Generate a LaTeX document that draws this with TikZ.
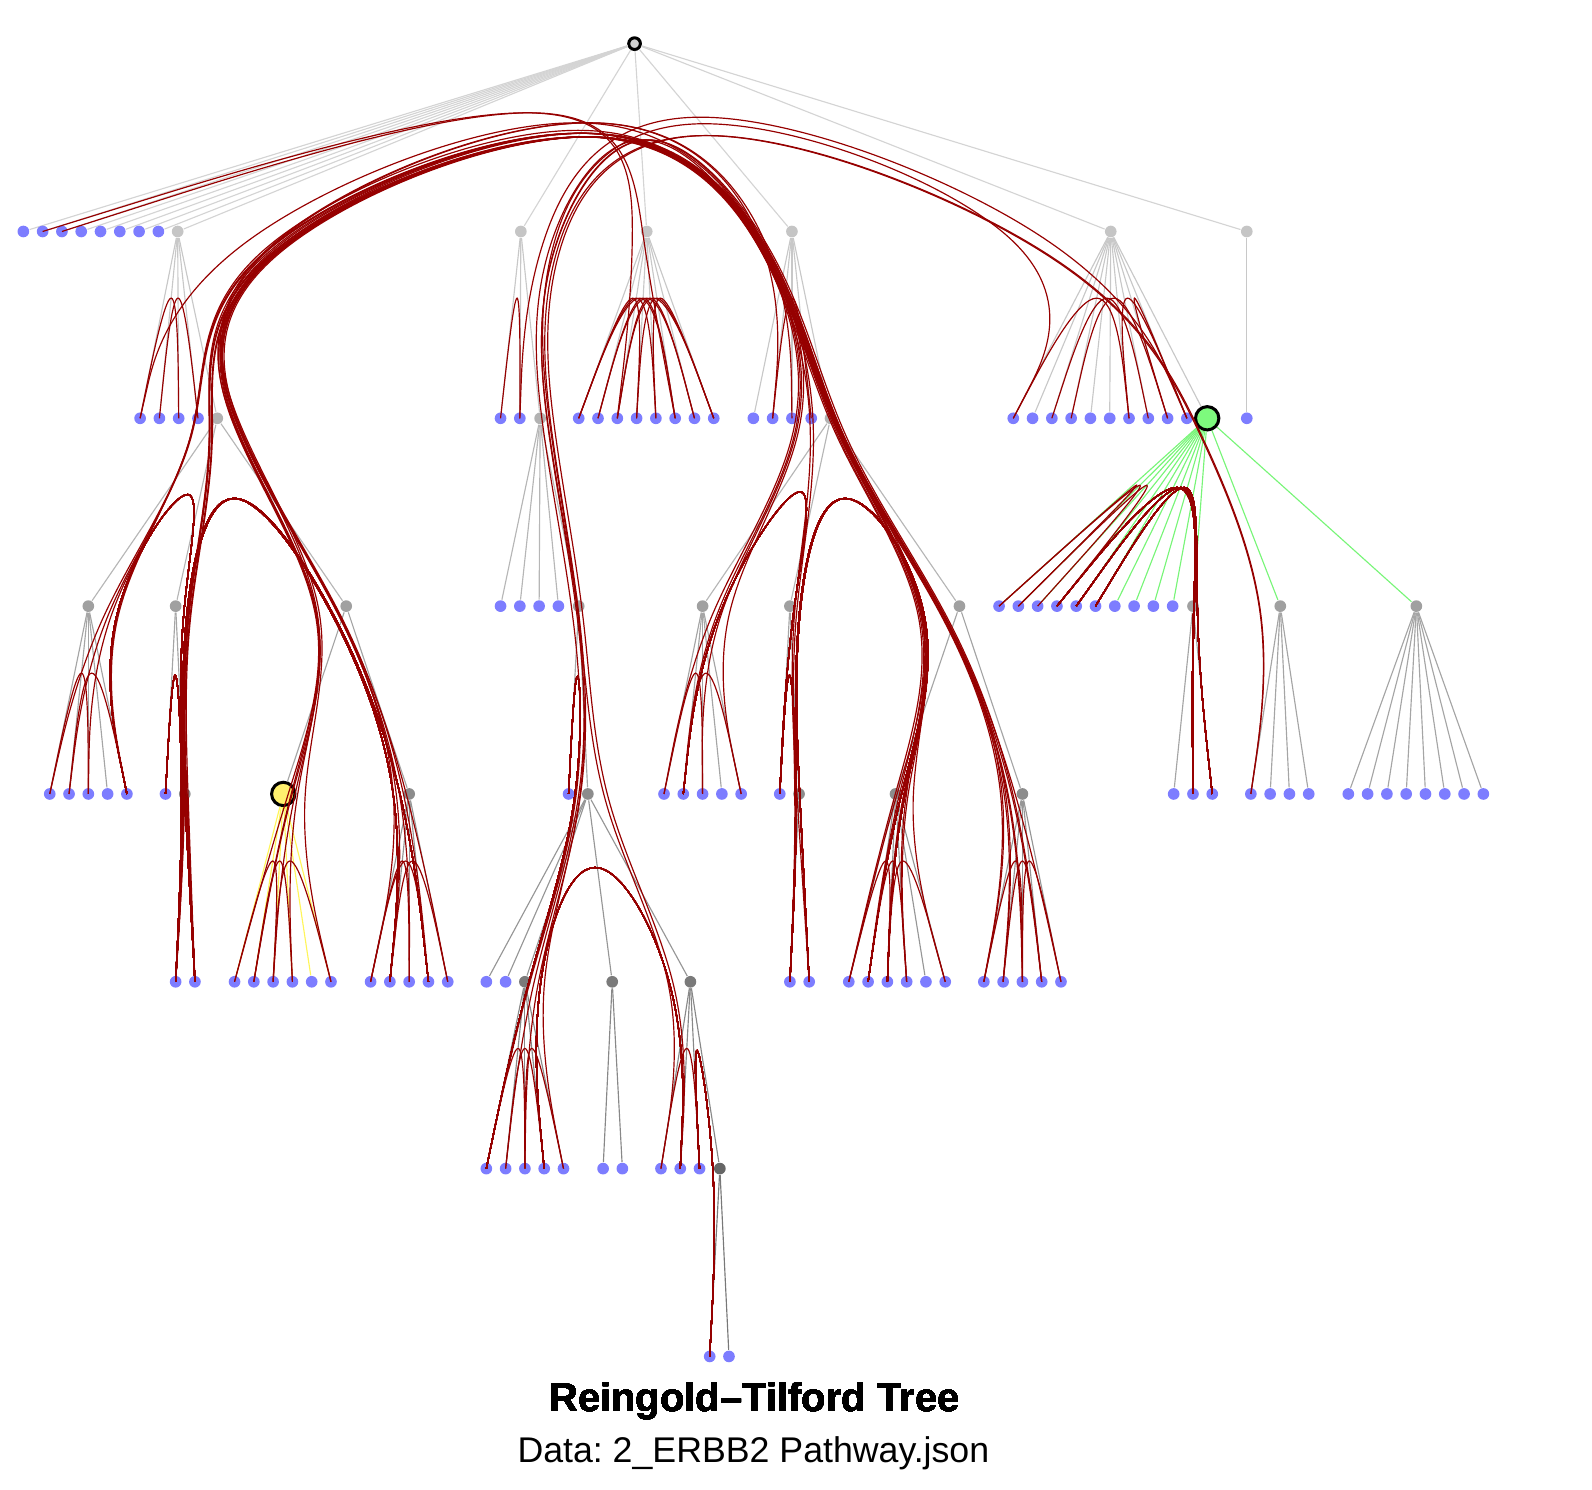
\documentclass[tikz,border=0pt]{standalone}
\usepackage{fontspec}
\setmainfont{Liberation Sans}
\usetikzlibrary{calc}
\frenchspacing

\definecolor{leafblue}{RGB}{125,125,255}
\definecolor{linkred}{RGB}{150,0,0}
\definecolor{hiyellow}{RGB}{255,240,110}
\definecolor{higreen}{RGB}{125,250,125}
\definecolor{yline}{RGB}{255,245,90}
\definecolor{gline}{RGB}{120,245,120}
\definecolor{n1}{RGB}{197,197,197}
\definecolor{n2}{RGB}{178,178,178}
\definecolor{n3}{RGB}{160,160,160}
\definecolor{n4}{RGB}{140,140,140}
\definecolor{n5}{RGB}{122,122,122}
\definecolor{n6}{RGB}{102,102,102}
\definecolor{e1}{RGB}{212,212,212}
\definecolor{e2}{RGB}{200,200,200}
\definecolor{e3}{RGB}{182,182,182}
\definecolor{e4}{RGB}{165,165,165}
\definecolor{e5}{RGB}{150,150,150}
\definecolor{e6}{RGB}{136,136,136}
\definecolor{e7}{RGB}{120,120,120}

% bundled link along a list of node names (straightened B-spline)
\def\bstraight{0.035}
\newcommand\bundlelink[1]{%
  \foreach \nd [count=\k from 0] in {#1} {\coordinate (bp\k) at (\nd.center); \xdef\bn{\k}}
  \pgfmathtruncatemacro\bnm{\bn-1}
  \foreach \k in {0,...,\bn} {
    \coordinate (bs\k) at ($(bp0)!\k/\bn!(bp\bn)$);
    \coordinate (bq\k) at ($(bp\k)!\bstraight!(bs\k)$);}
  \foreach \k [evaluate=\k as \pv using int(\k-1), evaluate=\k as \nx using int(\k+1)] in {1,...,\bnm} {
    \coordinate (bh\k) at ($(bq\pv)!.5!(bq\nx)$);
    \coordinate (bm\k) at ($(bq\k)!1/3!(bh\k)$);}
  \draw[redlink] (bq0) -- ($(bq0)!1/6!(bq1)$)
    \foreach \k [evaluate=\k as \pv using int(\k-1)] in {1,...,\bnm} {
      .. controls ($(bq\pv)!1/3!(bq\k)$) and ($(bq\pv)!2/3!(bq\k)$) .. (bm\k)}
    .. controls ($(bq\bnm)!1/3!(bq\bn)$) and ($(bq\bnm)!2/3!(bq\bn)$) .. ($(bq\bnm)!5/6!(bq\bn)$) -- (bq\bn);
}

\begin{document}
\begin{tikzpicture}[x=0.01cm, y=-0.01cm,
    leaf/.style={circle, fill=leafblue, inner sep=0pt, minimum size=0.115cm},
    idot/.style={circle, fill=#1, inner sep=0pt, minimum size=0.115cm},
    bignode/.style={circle, draw=black, line width=0.85pt, fill=#1, inner sep=0pt, minimum size=0.23cm},
    rootdot/.style={circle, draw=black, line width=0.85pt, fill=gray!35, inner sep=0pt, minimum size=0.115cm},
    tline/.style={draw=#1, line width=0.32pt},
    redlink/.style={draw=linkred, line width=0.33pt}]
\useasboundingbox (0,0) rectangle (1568,1467);
% inner nodes
\node[rootdot] (r) at (625,43) {};
\foreach \n/\x/\y/\c in {A/175/228/n1, B/513/228/n1, C/637/228/n1, D/780/228/n1, E/1094/228/n1, F/1228/228/n1,
    Ag/214/412/n2, Bg/532/412/n2, Dg/818/412/n2,
    P/87/597/n3, Q/173/597/n3, R/341/597/n3, S/570/597/n3, T/692/597/n3, U/778/597/n3, V/945/597/n3,
    W/1175/597/n3, X/1261/597/n3, Y/1395/597/n3,
    Qg/182/782/n4, Rg/403/782/n4, Sg/579/782/n4, Ug/787/782/n4, Vl/882/782/n4, Vr/1007/782/n4,
    H/517/967/n5, I/603/967/n5, J/680/967/n5, Z/709/1151/n6}
  \node[idot=\c] (\n) at (\x,\y) {};
\node[bignode=higreen] (G) at (1189,412) {};
\node[bignode=hiyellow] (K) at (279,782) {};
% edges between inner nodes
\foreach \p/\n/\c in {r/A/e1, r/B/e1, r/C/e1, r/D/e1, r/E/e1, r/F/e1,
    A/Ag/e2, B/Bg/e2, D/Dg/e2, E/G/e2,
    Ag/P/e3, Ag/Q/e3, Ag/R/e3, Bg/S/e3, Dg/T/e3, Dg/U/e3, Dg/V/e3, G/W/gline, G/X/gline, G/Y/gline,
    Q/Qg/e4, R/K/e4, R/Rg/e4, S/Sg/e4, U/Ug/e4, V/Vl/e4, V/Vr/e4,
    Sg/H/e5, Sg/I/e5, Sg/J/e5, J/Z/e6}
  \draw[tline=\c] (\p) -- (\n);
% leaves and their edges
\foreach \p/\s/\num/\y/\c in {r/4/8/228/e1,
    A/119/4/412/e2, B/474/2/412/e2, C/551/8/412/e2, D/723/4/412/e2, E/979/10/412/e2, F/1209/1/412/e2,
    Bg/474/4/597/e3, G/965/10/597/gline,
    P/30/5/782/e4, Q/144/1/782/e4, S/541/1/782/e4, T/635/5/782/e4, U/749/1/782/e4,
    W/1137/3/782/e4, X/1213/4/782/e4, Y/1309/8/782/e4,
    Qg/154/2/967/e5, K/212/6/967/yline, Rg/346/5/967/e5, Sg/460/2/967/e5, Ug/759/2/967/e5,
    Vl/817/6/967/e5, Vr/950/5/967/e5,
    H/460/5/1151/e6, I/575/2/1151/e6, J/632/3/1151/e6, Z/680/2/1336/e7}
  \foreach \i in {1,...,\num} {
    \node[leaf] (\p\i) at ({\s+19*\i},\y) {};
    \draw[tline=\c] (\p) -- (\p\i);
  }
% links over the root
\bundlelink{P1,P,Ag,A,r,D,Dg,V,Vr,Vr1}
\bundlelink{P2,P,Ag,A,r,D,Dg,V,Vr,Vr2}
\bundlelink{P3,P,Ag,A,r,D,Dg,V,Vl,Vl1}
\bundlelink{P5,P,Ag,A,r,D,Dg,T,T1}
\bundlelink{Qg1,Qg,Q,Ag,A,r,D,Dg,V,Vr,Vr3}
\bundlelink{Qg1,Qg,Q,Ag,A,r,D,Dg,V,Vl,Vl2}
\bundlelink{Qg1,Qg,Q,Ag,A,r,D,Dg,U,Ug,Ug2}
\bundlelink{Qg2,Qg,Q,Ag,A,r,D,Dg,V,Vr,Vr4}
\bundlelink{Qg2,Qg,Q,Ag,A,r,D,Dg,T,T2}
\bundlelink{K1,K,R,Ag,A,r,D,Dg,V,Vl,Vl4}
\bundlelink{K2,K,R,Ag,A,r,D,Dg,V,Vr,Vr5}
\bundlelink{K2,K,R,Ag,A,r,D,D2}
\bundlelink{K3,K,R,Ag,A,r,D,Dg,V,Vl,Vl6}
\bundlelink{K4,K,R,Ag,A,r,D,Dg,T,T3}
\bundlelink{K6,K,R,Ag,A,r,D,D3}
\bundlelink{Rg1,Rg,R,Ag,A,r,D,Dg,V,Vr,Vr1}
\bundlelink{Rg2,Rg,R,Ag,A,r,D,Dg,V,Vl,Vl3}
\bundlelink{Rg3,Rg,R,Ag,A,r,D,Dg,T,T5}
\bundlelink{Rg4,Rg,R,Ag,A,r,D,Dg,V,Vr,Vr2}
\bundlelink{Rg5,Rg,R,Ag,A,r,D,Dg,V,Vl,Vl1}
\bundlelink{A1,A,r,D,Dg,V,Vr,Vr3}
\bundlelink{r2,r,C,C3}
\bundlelink{r3,r,C,C6}
\bundlelink{H1,H,Sg,S,Bg,B,r,D,Dg,U,Ug,Ug1}
\bundlelink{H2,H,Sg,S,Bg,B,r,E,E1}
\bundlelink{H3,H,Sg,S,Bg,B,r,E,G,X,X1}
\bundlelink{J2,J,Sg,S,Bg,B,r,E,G,X,X1}
\bundlelink{H5,H,Sg,S,Bg,B,r,D,Dg,V,Vr,Vr4}
\bundlelink{J1,J,Sg,S,Bg,B,r,D,Dg,V,Vl,Vl4}
\bundlelink{B2,B,r,E,E10}
% links inside one subtree
\foreach \pa/\ia/\ib in {A/1/3, A/2/4, B/1/2, C/1/5, C/2/6, C/3/7, C/4/8, C/1/4, C/2/7, C/5/8, C/3/8, C/1/6,
    D/2/4, E/1/7, E/3/8, E/4/9, E/7/10, E/9/10, G/1/3, G/2/4, G/1/2, P/1/3, P/2/5, K/1/3, K/2/4, K/3/6,
    Rg/1/3, Rg/2/5, Rg/1/4, T/1/3, T/2/5, Vl/1/3, Vl/2/4, Vl/3/6, Vr/1/3, Vr/2/4, Vr/3/5,
    H/1/3, H/2/4, H/3/5, J/1/3}
  \bundlelink{\pa\ia,\pa,\pa\ib}
\bundlelink{G4,G,W,W2}
\bundlelink{G6,G,W,W2}
\bundlelink{G5,G,W,W3}
\bundlelink{P5,P,Ag,Q,Qg,Qg2}
\bundlelink{Qg1,Qg,Q,Ag,R,Rg,Rg2}
\bundlelink{Qg2,Qg,Q,Ag,R,Rg,Rg4}
\bundlelink{Q1,Q,Qg,Qg1}
\bundlelink{T2,T,Dg,U,U1}
\bundlelink{U1,U,Ug,Ug1}
\bundlelink{Ug1,Ug,U,Dg,V,Vl,Vl2}
\bundlelink{Ug2,Ug,U,Dg,V,Vl,Vl3}
\bundlelink{H4,H,Sg,J,J2}
\bundlelink{Z1,Z,J,J3}
\bundlelink{S1,S,Sg,H,H1}
% caption
\node[anchor=base, font=\fontsize{11.2}{13}\selectfont\bfseries] (title) at (743,1390) {Reingold–Tilford Tree};
\node[anchor=base, font=\fontsize{10}{12}\selectfont] (data) at (742,1440) {Data: 2\_ERBB2 Pathway.json};
\end{tikzpicture}
\end{document}
